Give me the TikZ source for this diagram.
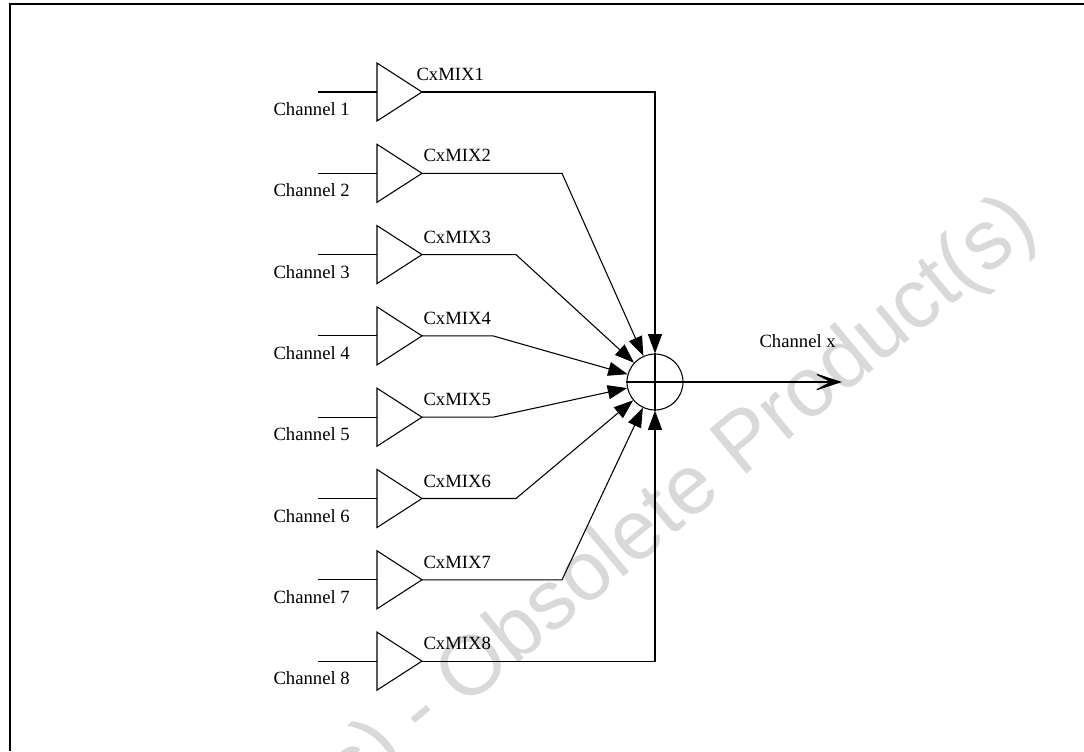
\documentclass[tikz,border=0pt]{standalone}
\usepackage{fontspec}
\setmainfont{Liberation Serif}
\newfontfamily\wmfont{Liberation Sans}
\usetikzlibrary{arrows.meta}
\begin{document}
\begin{tikzpicture}[x=0.75pt,y=-0.75pt, line width=0.8pt,
  inarrow/.style={-{Triangle[length=14.5pt,width=10.5pt]}},
  outarrow/.style={-{Stealth[length=23pt,width=15pt,inset=14pt]}},
  lbl/.style={font=\fontsize{14}{16}\selectfont, inner sep=0pt, anchor=base west},
  amp/.style={draw, line width=0.8pt, line join=miter},
  summer/.style={circle, draw, minimum size=42pt, inner sep=0pt},
  frameline/.style={line width=1.5pt}]
\useasboundingbox (0,0) rectangle (1084,751);
\node[rotate=39.6, text=black!15, font=\wmfont\fontsize{63}{70}\selectfont] (wm) at (422,715) {Obsolete Product(s) - Obsolete Product(s)};
\draw[frameline] (10,751) -- (10,4) -- (1084,4);
\node[summer] (sum) at (655,382) {};
\draw (sum.north) -- (sum.south);
\coordinate (out) at (842,382);
\draw[outarrow] (sum.west) -- (sum.east) -- (out);
\node[lbl] (chx) at (759,347) {Channel x};
\foreach \i/\bx/\lx in {1/655/416,2/562/423,3/516/423,4/493/423,5/493/423,6/516/423,7/562/423,8/655/423}{
  \pgfmathsetmacro{\yy}{92+(\i-1)*81.3}
  \coordinate (in\i) at (318,\yy);
  \coordinate (ampin\i) at (377,\yy);
  \coordinate (amptop\i) at (377,\yy-29);
  \coordinate (ampbot\i) at (377,\yy+29);
  \coordinate (o\i) at (422,\yy);
  \coordinate (b\i) at (\bx,\yy);
  \draw[amp] (amptop\i) -- (o\i) -- (ampbot\i) -- cycle;
  \draw (in\i) -- (ampin\i);
  \draw[inarrow] (o\i) -- (b\i) -- (sum);
  \node[lbl] (ch\i) at (273,\yy+23.5) {Channel \i};
  \node[lbl] (mix\i) at (\lx,\yy-11.5) {CxMIX\i};
}
\end{tikzpicture}
\end{document}
